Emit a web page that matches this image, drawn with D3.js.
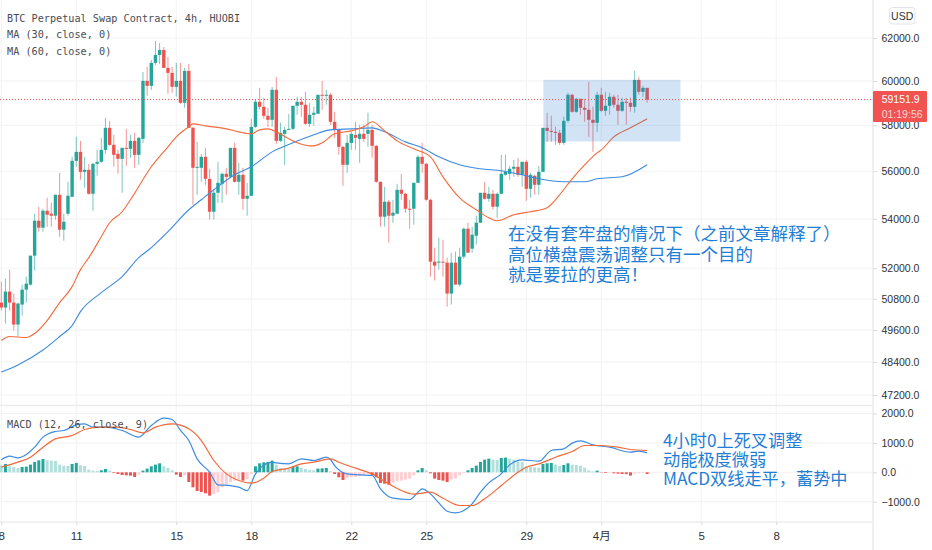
<!DOCTYPE html>
<html><head><meta charset="utf-8">
<script src="https://cdn.jsdelivr.net/npm/d3@7/dist/d3.min.js"></script>
<style>html,body{margin:0;padding:0;background:#fff;overflow:hidden}svg{display:block}</style>
</head><body><svg id="c" width="932" height="550"></svg>
<script>
const opens=[50654,50461,51079,50654,49810,50577,51157,51353,52501,53922,53635,54335,54211,54129,55001,53553,54211,54917,56446,56835,55975,56060,55043,56318,56404,56922,57887,57139,56748,56532,57009,56965,57314,56705,57402,60002,59774,60832,61203,61436,60600,60369,59728,60002,59006,60461,57887,56147,56147,56619,55676,54293,55085,55465,55890,55761,57009,55550,55847,54834,54959,57932,59051,58826,58422,58243,59594,57314,57622,57798,57843,58871,59051,58916,58065,58467,58512,59368,59322,59368,58154,57798,57052,56275,57227,57578,57402,57622,57622,57798,57096,55550,54088,54709,54129,54211,55211,55043,54418,54418,55507,56619,56318,54792,52262,52222,52262,52222,51002,52222,51353,52461,53594,52782,53309,53840,55085,54834,55043,54501,55043,55847,55890,56105,56190,55847,56404,55253,55805,55423,55975,57887,57754,57710,57666,57227,58199,59368,58601,59186,58781,58691,58243,58110,59368,58646,58871,59277,58916,58646,59051,59006,58826,60048,59504,59683];
const highs=[51470,51588,51944,51002,50654,51353,51667,52501,54211,54501,54418,54876,54667,55001,55932,54211,55550,56619,57490,57314,56619,56318,56361,56922,57446,58333,58199,57578,56922,57009,57843,57578,57666,57490,60415,60647,60971,61858,61763,61575,61110,60647,60832,60832,60600,60786,57932,57270,56748,57009,56105,55211,56404,55932,56147,57009,57227,56361,56147,55507,58288,59141,59683,59232,58781,59728,60185,58110,57932,58512,58871,59277,59277,59504,59006,58826,59368,60002,59594,59458,58601,57798,57096,57578,57710,58154,58021,58021,58557,58021,57139,55550,55339,54792,54792,55465,55890,55085,54792,55507,56705,57227,56361,54834,52823,53228,53146,52421,52621,52661,52823,53635,53840,53676,54129,55085,55550,55339,55211,55085,56705,56705,56232,56489,56576,56404,56489,55932,55847,56232,57887,58557,58422,57932,57798,58378,59458,59413,59232,59186,59186,59956,58826,59504,59683,59504,59458,59368,59368,59232,59232,59232,60461,60185,59774,59683];
const lows=[50345,49848,50345,49583,49357,50153,50654,51314,51904,53471,53471,53676,53676,53963,53268,53106,54129,54917,56190,55634,55296,55001,54335,55805,56361,56748,57096,56190,55890,55085,56232,56576,56147,56275,57227,59322,59594,60740,60786,60600,59413,59458,59277,58961,58781,57887,54584,55001,55550,55423,53963,53963,54667,54667,55001,55761,55507,55001,54376,54129,54959,57887,58691,58288,57932,57932,57183,57270,56275,57798,57798,58467,58378,58021,57932,57976,58512,58691,58916,58021,57446,56705,55381,55932,56922,56922,56361,57270,57052,56576,55507,53676,53676,53025,53840,54211,54792,54252,53594,53758,55507,55932,54750,51667,51510,51944,51667,50499,50577,51353,51275,52381,52621,52621,52944,53840,54792,54709,54376,54046,55043,55805,55634,55761,55761,55339,54750,54876,55001,55001,55975,57270,57270,57139,57139,57139,58110,58557,58557,58467,58154,57490,56835,57710,58601,58422,58467,58781,58021,58601,58021,58601,58557,59368,59277,59006];
const closes=[50461,51079,50654,49810,50615,51157,51392,52501,53922,53635,54335,54170,54129,55001,53553,53881,54959,56446,56835,55975,56060,55043,56318,56404,56922,57887,57139,56705,56532,57009,56965,57314,56705,57446,60002,59774,60832,61203,61436,60600,60369,59728,60002,59006,60461,57887,56147,56190,56619,55676,54293,55085,55507,55890,55761,57009,55550,55847,54834,54959,57932,59051,58826,58422,58243,59594,57314,57666,57798,57843,58871,59051,58916,58065,58467,58557,59368,59322,59368,58154,57798,57052,56275,57227,57622,57446,57622,57402,57798,57096,55550,54088,54709,54129,54252,55211,55043,54418,54376,55507,56619,56318,54792,52262,52103,52262,52222,51002,52222,51353,52461,53594,52621,53349,53840,55085,54834,55043,54501,55043,55890,55975,56105,56190,55847,56404,55253,55847,55423,55975,57887,57754,57710,57666,57227,58199,59368,58601,59186,58781,58691,58243,58110,59368,58646,58871,59277,58916,58646,59051,59006,58826,60048,59504,59683,59151.9];

const ma30Bars=[0,2,6,8,11,14,17,19,21,24,26,29,31,36,40,42,45,46,49,54,57,60,62,64,66,69,71,74,75,77,80,84,87,89,92,95,99,103,106,110,114,117,119,123,127,131,134,137,140,143,144,147,151,155];
const ma30Values=[49205,49357,49318,49470,49962,50654,51275,51944,52421,53268,53840,54293,54792,56190,57052,57490,57932,58065,57976,57843,57710,57622,57798,57843,57710,57402,57227,57096,57096,57227,57622,57754,57932,58154,57754,57314,56965,56619,55761,54876,54376,54046,53922,54170,54293,54459,55001,55676,56275,56792,56922,57490,57887,58288];
const ma60Bars=[0,4,10,14,17,19,24,29,33,36,40,45,48,51,56,60,65,70,75,79,84,89,92,97,101,105,110,115,120,125,129,135,140,143,149,155];
const ma60Values=[48038,48298,48850,49357,49772,50306,51040,51667,52421,52823,53471,54376,54792,55211,55847,56190,56835,57227,57578,57798,57843,57887,57710,57270,57009,56619,56275,56105,56017,55847,55676,55550,55550,55676,55761,56275];

const macdBars=[0,2,4,6,8,10,13,15,18,20,22,25,29,33,36,39,41,43,45,47,50,52,55,57,59,61,65,66,69,72,75,78,79,80,83,86,89,91,94,98,100,101,103,105,107,109,113,115,117,120,122,125,129,132,135,137,139,142,146,151,153,155];
const macdValues=[424,548,492,605,854,1195,1387,1422,1614,1648,1535,1535,1422,1195,1592,1841,1796,1422,1081,458,4,-427,-450,-506,-620,-53,344,322,287,458,401,514,435,231,-53,-87,-109,-563,-881,-926,-676,-563,-733,-1039,-1323,-1379,-1073,-676,-359,-53,253,424,378,741,798,991,1070,934,854,684,718,662];
const signalBars=[0,4,7,10,13,17,20,24,28,31,34,37,41,45,48,51,54,57,60,63,65,69,72,75,79,81,85,89,93,96,99,103,106,110,113,116,120,124,126,129,133,137,140,144,148,151,155];
const signalValues=[174,344,514,854,1138,1251,1456,1535,1535,1456,1342,1535,1648,1478,1081,401,-53,-280,-370,-200,27,140,287,344,458,344,140,-53,-393,-620,-744,-676,-881,-1130,-1130,-903,-450,4,174,287,514,707,911,911,854,775,741];
const histValues=[238,284,204,181,147,181,193,261,352,408,454,408,397,386,261,227,215,284,318,238,215,91,57,45,68,113,57,-23,-57,-91,-102,-113,-159,-79,57,125,204,261,306,204,147,68,-79,-159,-102,-329,-510,-635,-669,-714,-794,-737,-680,-510,-420,-329,-284,-249,-284,-238,-57,204,306,340,352,397,261,147,136,113,193,204,147,113,79,68,125,136,147,34,-57,-170,-261,-193,-170,-159,-125,-91,-57,-102,-170,-363,-386,-420,-363,-306,-284,-249,-215,-102,68,147,68,-34,-215,-261,-284,-329,-249,-215,-102,-23,68,147,227,352,431,465,431,420,488,499,465,431,374,352,204,181,170,159,284,306,318,261,215,249,306,261,249,227,159,68,34,57,-11,-23,-11,-34,-45,-57,-62,-113,-45,-34,-23,-57];

const priceTicks=[62000,60000,58000,56000,54000,52000,50800,49600,48400,47200];
const macdTicks=[2000,1000,0,-1000];
const dateBars=[0,18,42,60,84,102,126,144,168,186];
const dateLabels=["8","11","15","18","22","25","29","4月","5","8"];
const lastPrice=59151.9, lastLabel="59151.9", countdown="01:19:56";
const boxFromBar=130.1, boxToBar=163, boxTop=60050, boxBottom=57290;
const legendLines=["BTC Perpetual Swap Contract, 4h, HUOBI","MA (30, close, 0)","MA (60, close, 0)"];
const macdLegend="MACD (12, 26, close, 9)";
const noteA=["在没有套牢盘的情况下（之前文章解释了）","高位横盘震荡调整只有一个目的","就是要拉的更高！"];
const noteB=["4小时0上死叉调整","动能极度微弱","MACD双线走平，蓄势中"];

const W=932,H=550,plotR=873;
const mono='"DejaVu Sans Mono",monospace', axisF='"Liberation Sans",Arial,sans-serif', cjk='"Noto Sans CJK SC",sans-serif';
const UP="#26a69a",DN="#ef5350",C30="#f4693a",C60="#3d8bdf",NOTE="#1f7ed6";
const svg=d3.select("#c");
const x=d3.scaleLinear().domain([0,186]).range([1.3,776.3]);
const y=d3.scaleLog().domain([47200,62000]).range([395,38]);
const ym=d3.scaleLinear().domain([-1000,2000]).range([501.7,413.5]);

// grid
const grid=svg.append("g").attr("stroke","#f4f4f5").attr("stroke-width",1.2);
grid.selectAll(".h").data(priceTicks).join("line").attr("x1",0).attr("x2",plotR).attr("y1",d=>y(d)).attr("y2",d=>y(d));
grid.selectAll(".m").data(macdTicks).join("line").attr("x1",0).attr("x2",plotR).attr("y1",d=>ym(d)).attr("y2",d=>ym(d));
grid.selectAll(".v").data(dateBars).join("line").attr("x1",d=>x(d)).attr("x2",d=>x(d)).attr("y1",0).attr("y2",522);

// candles
const bars=d3.range(opens.length);
const cg=svg.append("g");
cg.selectAll(".w").data(bars).join("line")
 .attr("x1",i=>x(i)).attr("x2",i=>x(i)).attr("y1",i=>y(highs[i])).attr("y2",i=>y(lows[i]))
 .attr("stroke",i=>closes[i]<opens[i]?DN:UP).attr("stroke-opacity",.62).attr("stroke-width",1);
cg.selectAll(".b").data(bars).join("rect")
 .attr("x",i=>x(i)-1.7).attr("width",3.4)
 .attr("y",i=>y(Math.max(opens[i],closes[i])))
 .attr("height",i=>Math.max(1,y(Math.min(opens[i],closes[i]))-y(Math.max(opens[i],closes[i]))))
 .attr("fill",i=>closes[i]<opens[i]?DN:UP);

// MA lines
const line=(xs,vs,sc,col,w)=>svg.append("path")
 .attr("d",d3.line().x(d=>x(d[0])).y(d=>sc(d[1])).curve(d3.curveMonotoneX)(xs.map((b,k)=>[b,vs[k]])))
 .attr("fill","none").attr("stroke",col).attr("stroke-width",w);
line(ma60Bars,ma60Values,y,C60,1.1);
line(ma30Bars,ma30Values,y,C30,1.1);

// box
svg.append("rect").attr("x",x(boxFromBar)).attr("width",x(boxToBar)-x(boxFromBar))
 .attr("y",y(boxTop)).attr("height",y(boxBottom)-y(boxTop))
 .attr("fill","#1f72cf").attr("fill-opacity",.2);

// last price line
svg.append("line").attr("x1",0).attr("x2",plotR).attr("y1",y(lastPrice)).attr("y2",y(lastPrice))
 .attr("stroke",DN).attr("stroke-width",1).attr("stroke-dasharray","1 2");

// macd histogram
const histColor=(v,i)=>{const p=i?histValues[i-1]:Infinity;return v>=0?(v>p?UP:"#b2dfdb"):(v<p?DN:"#ffcdd2");};
svg.append("g").selectAll("rect").data(histValues).join("rect")
 .attr("x",(v,i)=>x(i)-1.5).attr("width",3)
 .attr("y",v=>Math.min(ym(v),ym(0))).attr("height",v=>Math.abs(ym(v)-ym(0)))
 .attr("fill",histColor);
line(macdBars,macdValues,ym,C60,1.2);
line(signalBars,signalValues,ym,C30,1.2);

// panel frame
const frame=svg.append("g").attr("stroke","#ececed").attr("stroke-width",1.6);
frame.append("line").attr("x1",0).attr("x2",plotR).attr("y1",405.5).attr("y2",405.5);
frame.append("line").attr("x1",0).attr("x2",plotR).attr("y1",522).attr("y2",522);
frame.append("line").attr("x1",plotR).attr("x2",plotR).attr("y1",0).attr("y2",H);

// axes
const styleAxis=g=>{g.select(".domain").remove();
 g.selectAll("line").attr("stroke","#d9dadc").attr("stroke-width",1);
 g.selectAll("text").attr("fill","#2f3136").attr("font-family",axisF).attr("font-size",10.5);};
svg.append("g").attr("transform",`translate(${plotR},0)`)
 .call(d3.axisRight(y).tickValues(priceTicks).tickSize(4).tickPadding(4.5).tickFormat(d=>d.toFixed(1))).call(styleAxis);
svg.append("g").attr("transform",`translate(${plotR},0)`)
 .call(d3.axisRight(ym).tickValues(macdTicks).tickSize(4).tickPadding(4.5).tickFormat(d=>(d<0?"−":"")+Math.abs(d).toFixed(1))).call(styleAxis);
const xa=d3.scaleOrdinal().domain(dateBars).range(dateBars.map(x));
svg.append("g").attr("transform","translate(0,522)")
 .call(d3.axisBottom(xa).tickValues(dateBars).tickSize(3).tickPadding(7).tickFormat((d,i)=>dateLabels[i])).call(styleAxis)
 .selectAll("text").attr("font-size",11.5).style("font-family",`${axisF},"Noto Sans CJK SC"`);

// last label
svg.append("rect").attr("x",plotR).attr("y",91).attr("width",54).attr("height",31).attr("rx",1).attr("fill","#f05350");
svg.append("text").attr("x",881.7).attr("y",103.3).text(lastLabel).attr("fill","#fff").attr("font-family",axisF).attr("font-size",10.5);
svg.append("text").attr("x",881.7).attr("y",118).text(countdown).attr("fill","#fff").attr("fill-opacity",.75).attr("font-family",axisF).attr("font-size",10.5);

// USD button
svg.append("rect").attr("x",889.5).attr("y",7.5).attr("width",25.5).attr("height",16.5).attr("rx",3).attr("fill","#fff").attr("stroke","#e0e3eb");
svg.append("text").attr("x",902.2).attr("y",19.5).attr("text-anchor","middle").text("USD").attr("fill","#2f3136").attr("font-family",axisF).attr("font-size",10.5).attr("font-weight",500);

// legends
svg.append("g").selectAll("text").data(legendLines).join("text").attr("x",7).attr("y",(d,i)=>21.8+i*16.6).text(d=>d)
 .attr("fill","#4a4d55").attr("font-family",mono).attr("font-size",10.2);
svg.append("text").attr("x",7).attr("y",428).text(macdLegend).attr("fill","#4a4d55").attr("font-family",mono).attr("font-size",10.2);

// notes
svg.append("g").selectAll("text").data(noteA).join("text").attr("x",508).attr("y",(d,i)=>240+i*20.7).text(d=>d)
 .attr("fill",NOTE).attr("font-family",cjk).attr("font-size",17.5);
svg.append("g").selectAll("text").data(noteB).join("text").attr("x",663).attr("y",(d,i)=>447+i*19.2).text(d=>d)
 .attr("fill",NOTE).attr("font-family",cjk).attr("font-size",17.2);
</script></body></html>
